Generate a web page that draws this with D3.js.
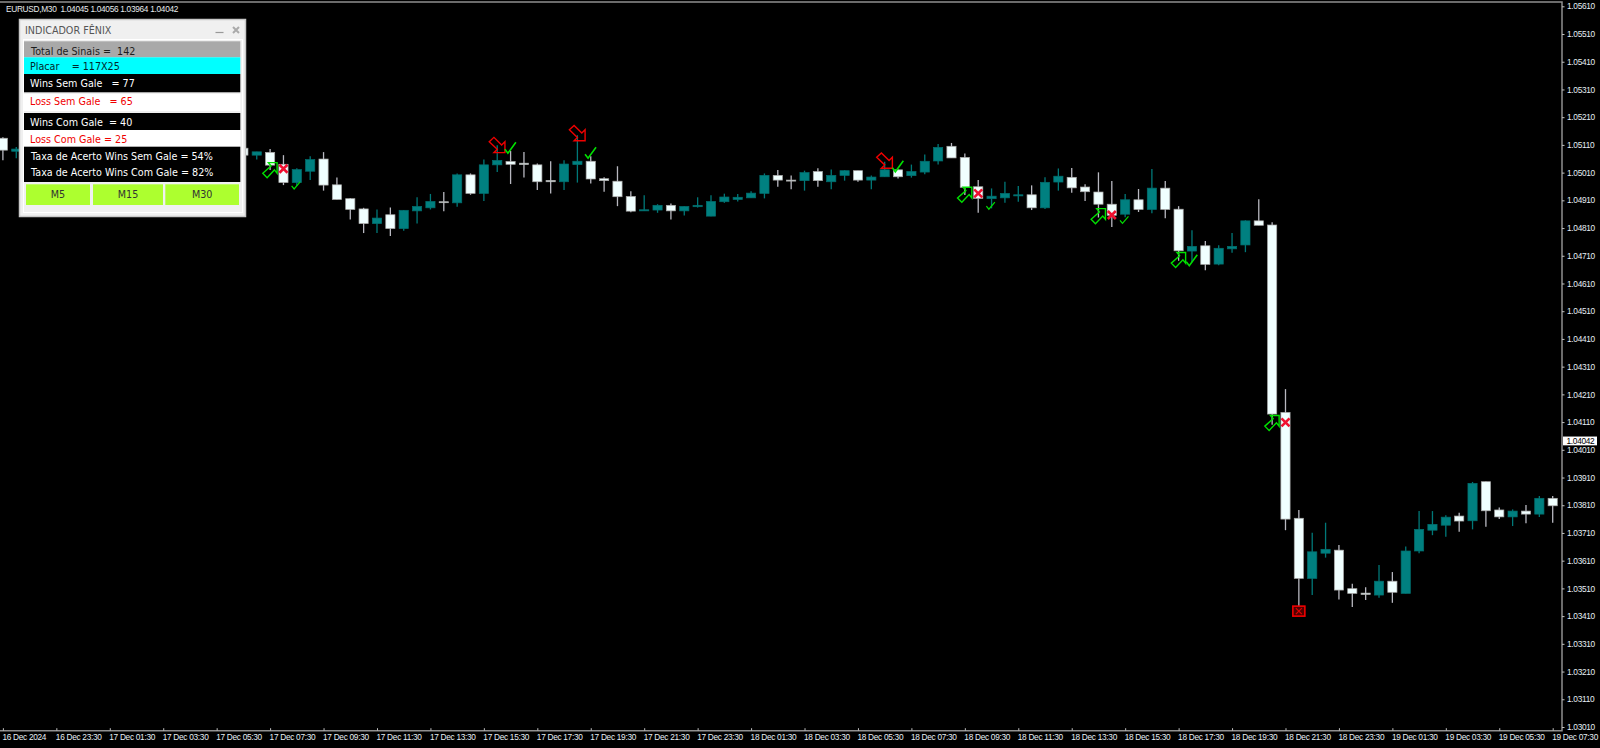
<!DOCTYPE html>
<html><head><meta charset="utf-8">
<script src="https://cdn.jsdelivr.net/npm/d3@7/dist/d3.min.js"></script>
<style>
html,body{margin:0;padding:0;background:#000;overflow:hidden}
svg{display:block}
text{white-space:pre}
</style></head><body>
<svg id="c" width="1600" height="748"></svg>
<script>
// Prices in points (1e-5). Bars counted back from the newest candle.
// Bars 114..99 are hidden behind the indicator panel, so they are not listed.
const barsAgo = [116,115,98,97,96,95,94,93,92,91,90,89,88,87,86,85,84,83,82,81,80,79,78,77,76,75,74,73,72,71,70,69,68,67,66,65,64,63,62,61,60,59,58,57,56,55,54,53,52,51,50,49,48,47,46,45,44,43,42,41,40,39,38,37,36,35,34,33,32,31,30,29,28,27,26,25,24,23,22,21,20,19,18,17,16,15,14,13,12,11,10,9,8,7,6,5,4,3,2,1,0];
const bodyHigh = [105134,105095,105098,105085,105083,105040,105021,105057,105059,104966,104916,104879,104846,104858,104874,104888,104906,104905,105002,105002,105038,105054,105050,105044,105038,104982,105041,105051,105051,104988,104979,104924,104876,104892,104892,104888,104892,104906,104922,104921,104936,105000,105000,104983,105010,105014,105000,105017,105017,104994,105020,105020,105014,105051,105101,105105,105065,104959,104925,104935,104930,104930,104975,104997,104993,104958,104940,104896,104912,104912,104954,104954,104878,104744,104746,104737,104744,104836,104836,104821,104145,103763,103642,103651,103648,103509,103493,103536,103536,103645,103723,103741,103767,103771,103889,103895,103793,103789,103789,103835,103835];
const bodyLow = [105091,105087,105073,105073,105037,104974,104974,105015,104965,104913,104877,104826,104826,104808,104808,104872,104883,104902,104901,104935,104935,105038,105040,105039,104977,104977,104977,105039,104987,104981,104923,104871,104872,104875,104872,104872,104887,104853,104905,104913,104919,104935,104983,104981,104981,104981,104977,105000,104983,104983,104995,104995,104999,105012,105052,105063,104957,104917,104916,104919,104926,104883,104883,104976,104955,104941,104896,104856,104860,104877,104877,104877,104728,104727,104679,104680,104735,104749,104820,104139,103760,103546,103546,103637,103504,103492,103488,103486,103496,103492,103645,103720,103738,103753,103754,103790,103768,103768,103778,103778,103808];
const highs = [105138,105102,105102,105085,105095,105073,105026,105069,105084,104992,104918,104883,104877,104884,104875,104921,104933,104940,105007,105007,105057,105109,105088,105084,105043,105051,105055,105145,105069,104993,105033,104943,104928,104896,104899,104889,104921,104928,104934,104933,104943,105007,105019,105000,105017,105026,105021,105019,105017,105000,105049,105021,105039,105075,105113,105117,105079,104983,104953,104977,104962,104964,104993,105025,105027,104968,105011,104980,104933,104951,105023,104980,104889,104802,104763,104748,104792,104838,104914,104831,104229,103793,103711,103747,103667,103527,103514,103594,103569,103661,103789,103789,103774,103783,103894,103896,103802,103795,103811,103843,103843];
const lows = [105055,105062,105066,105057,105019,104965,104962,104983,104945,104913,104841,104792,104792,104781,104800,104826,104877,104871,104887,104930,104908,105012,104969,104992,104947,104935,104947,104974,104971,104941,104889,104867,104872,104865,104841,104855,104884,104853,104901,104906,104919,104917,104959,104950,104945,104959,104950,104981,104977,104950,104995,104989,104992,105004,105039,105063,104929,104865,104881,104901,104905,104875,104879,104945,104937,104908,104848,104814,104849,104868,104863,104845,104692,104687,104658,104676,104721,104723,104820,104100,103720,103439,103486,103621,103470,103443,103468,103476,103458,103492,103637,103702,103696,103714,103723,103732,103760,103735,103745,103768,103747];
const isUp = [0,1,0,1,0,0,1,1,0,0,0,0,1,0,1,1,1,0,1,0,1,1,0,0,0,0,1,1,0,0,0,0,1,1,0,1,1,1,1,1,1,1,0,0,1,0,1,1,0,1,1,0,1,1,1,0,0,0,1,1,1,0,1,1,0,0,0,0,1,0,1,0,0,1,0,1,1,1,0,0,0,0,1,1,0,0,0,1,0,1,1,1,1,0,1,0,0,1,0,1,0];

const sellBars = [79,73,50], sellPrices = [105082,105125,105026];
const buyBars = [96,44,34,28,21], buyPrices = [105046,104957,104880,104722,104134];
const checkBars = [78,94,72,49,42,32,27], checkPrices = [105080,104951,105062,105013,104878,104827,104674], checkLarge = [1,0,1,1,0,0,1];
const crossBars = [95,43,33,20], crossPrices = [105024,104935,104857,104109];
const boxBars = [19], boxPrices = [103428];

const priceTicks = [103010,103110,103210,103310,103410,103510,103610,103710,103810,103910,104010,104110,104210,104310,104410,104510,104610,104710,104810,104910,105010,105110,105210,105310,105410,105510,105610];
const lastPrice = 104042;
const timeBars = [116,112,108,104,100,96,92,88,84,80,76,72,68,64,60,56,52,48,44,40,36,32,28,24,20,16,12,8,4,0];
const timeLabels = ["16 Dec 2024","16 Dec 23:30","17 Dec 01:30","17 Dec 03:30","17 Dec 05:30","17 Dec 07:30","17 Dec 09:30","17 Dec 11:30","17 Dec 13:30","17 Dec 15:30","17 Dec 17:30","17 Dec 19:30","17 Dec 21:30","17 Dec 23:30","18 Dec 01:30","18 Dec 03:30","18 Dec 05:30","18 Dec 07:30","18 Dec 09:30","18 Dec 11:30","18 Dec 13:30","18 Dec 15:30","18 Dec 17:30","18 Dec 19:30","18 Dec 21:30","18 Dec 23:30","19 Dec 01:30","19 Dec 03:30","19 Dec 05:30","19 Dec 07:30"];
const chartTitle = "EURUSD,M30  1.04045 1.04056 1.03964 1.04042";

const panelTitle = "INDICADOR FÊNIX";
const panelLines = ["Total de Sinais =  142","Placar    = 117X25","Wins Sem Gale   = 77","Loss Sem Gale   = 65","Wins Com Gale  = 40","Loss Com Gale = 25","Taxa de Acerto Wins Sem Gale = 54%","Taxa de Acerto Wins Com Gale = 82%"];
const panelButtons = ["M5","M15","M30"];

const FONT = "'Liberation Sans',sans-serif", PFONT = "'DejaVu Sans',sans-serif";
const svg = d3.select("#c");
const x = d3.scaleLinear().domain([116,0]).range([2.9,1552.7]);
const y = d3.scaleLinear().domain([103010,105610]).range([727,6.3]);
const AX = 1562, AB = 730.7, BW = 9.2;

const candles = barsAgo.map((b,i)=>({b,top:bodyHigh[i],bot:bodyLow[i],h:highs[i],l:lows[i],up:!!isUp[i]}));
const plot = svg.append("g");
plot.selectAll("line.w").data(candles).join("line").attr("class","w")
  .attr("x1",d=>x(d.b)).attr("x2",d=>x(d.b)).attr("y1",d=>y(d.h)).attr("y2",d=>y(d.l))
  .attr("stroke",d=>d.up?"#007878":"#b8b8c0").attr("stroke-width",1.3);
plot.selectAll("rect.b").data(candles).join("rect").attr("class","b")
  .attr("x",d=>x(d.b)-BW/2).attr("width",BW)
  .attr("y",d=>y(d.top)).attr("height",d=>Math.max(1,y(d.bot)-y(d.top)))
  .attr("fill",d=>d.up?"#008080":"#f0ffff")
  .attr("stroke",d=>d.up?"#006e6e":"#a8a8a8").attr("stroke-width",0.7);

// signals
const marks = svg.append("g").attr("fill","none");
const buyShape = "M0,0L-8.7,0L-6,3.3L-14.3,10.7L-10,15L-2.7,7.3L0,10.7Z";
const sellShape = "M0,0L-11,0L-7.7,-3.3L-15.7,-11L-11,-15.3L-3.3,-7.7L0,-11Z";
marks.selectAll("path.buy").data(buyBars).join("path").attr("class","buy")
  .attr("d",buyShape).attr("stroke","#00e000").attr("stroke-width",1.4)
  .attr("transform",(b,i)=>`translate(${x(b)+7},${y(buyPrices[i])})`);
marks.selectAll("path.sell").data(sellBars).join("path").attr("class","sell")
  .attr("d",sellShape).attr("stroke","#f00000").attr("stroke-width",1.4)
  .attr("transform",(b,i)=>`translate(${x(b)+7.7},${y(sellPrices[i])})`);
marks.selectAll("path.chk").data(checkBars).join("path").attr("class","chk")
  .attr("d",(b,i)=>checkLarge[i]?"M-3,-4L0,0L8,-11":"M-2.5,-3L0,0L6,-7")
  .attr("stroke","#00e000").attr("stroke-width",(b,i)=>checkLarge[i]?1.6:1.2)
  .attr("transform",(b,i)=>`translate(${x(b)-2.7},${y(checkPrices[i])})`);
marks.selectAll("path.x").data(crossBars).join("path").attr("class","x")
  .attr("d","M-4,-4L4,4M-4,4L4,-4").attr("stroke","#f01030").attr("stroke-width",2.6)
  .attr("transform",(b,i)=>`translate(${x(b)},${y(crossPrices[i])})`);
const boxes = marks.selectAll("g.box").data(boxBars).join("g").attr("class","box")
  .attr("transform",(b,i)=>`translate(${x(b)},${y(boxPrices[i])})`);
boxes.append("rect").attr("x",-6).attr("y",-5).attr("width",12).attr("height",10).attr("fill","#500000").attr("stroke","#f00000").attr("stroke-width",1.6);
boxes.append("path").attr("d","M-3,-3L3,3M-3,3L3,-3").attr("stroke","#e00000").attr("stroke-width",1.2);

// frame and axes
svg.append("path").attr("d",`M-2,2H${AX}V${AB}H-2`).attr("fill","none").attr("stroke","#8f8f8f").attr("stroke-width",1.5);
const yAxis = svg.append("g").attr("transform",`translate(${AX},0)`)
  .call(d3.axisRight(y).tickValues(priceTicks).tickSize(2.5).tickPadding(2.5).tickFormat(v=>(v/1e5).toFixed(5)));
const xAxis = svg.append("g").attr("transform",`translate(0,${AB})`)
  .call(d3.axisBottom(x).tickValues(timeBars).tickSize(-2.5).tickPadding(5).tickFormat((b,i)=>timeLabels[i]));
[yAxis,xAxis].forEach(a=>{
  a.select(".domain").remove();
  a.selectAll(".tick line").attr("stroke","#c0c0c0").attr("stroke-width",1);
  a.selectAll("text").attr("fill","#e6eef4").attr("font-family",FONT).attr("font-size",8.3).attr("letter-spacing",-0.3);
});
xAxis.selectAll("text").attr("text-anchor","start").attr("dx",-1).attr("dy","0.75em").attr("y",3);

svg.append("rect").attr("x",AX+1).attr("y",y(lastPrice)-4.4).attr("width",34).attr("height",8.8).attr("fill","#fff");
svg.append("text").attr("x",AX+4.5).attr("y",y(lastPrice)+3).attr("fill","#000").attr("font-family",FONT).attr("font-size",8.3).attr("letter-spacing",-0.3).text((lastPrice/1e5).toFixed(5));
svg.append("text").attr("x",6).attr("y",11.5).attr("fill","#e6eaec").attr("font-family",FONT).attr("font-size",8.3).attr("letter-spacing",-0.3).text(chartTitle);

// indicator panel
const p = svg.append("g");
p.append("rect").attr("x",19.5).attr("y",19.5).attr("width",226).attr("height",197).attr("fill","#f0f0f0").attr("stroke","#c8c8c8").attr("stroke-width",1.5);
p.append("rect").attr("x",23.5).attr("y",39.5).attr("width",219).attr("height",173).attr("fill","#f0f0f0").attr("stroke","#fff").attr("stroke-width",1);
p.append("text").attr("x",25).attr("y",34).attr("fill","#555").attr("font-family",PFONT).attr("font-size",9.6).text(panelTitle);
p.append("path").attr("d","M215.5,32.5H223.5").attr("stroke","#999").attr("stroke-width",1.2);
p.append("path").attr("d","M233,27L239,33M233,33L239,27").attr("stroke","#aaa").attr("stroke-width",2);
const rowFill = ["#a9a9a9","#00ffff","#000","#fff","#000","#fff","#000","#000"];
const rowTop = [41.3,57.3,74,94,113,130,146.7,164];
const rowBot = [57.3,74,92.3,111,130,146.7,164,182];
const rowTextY = [54.5,69.5,86.5,104.5,125.5,142.5,159.5,175.5];
const rowTextX = [31,30,30,30,30,30,31,31];
const rowColor = ["#1c1c1c","#00282c","#fff","#f00000","#fff","#f00000","#fff","#fff"];
panelLines.forEach((t,i)=>{
  p.append("rect").attr("x",24).attr("y",rowTop[i]).attr("width",216.3).attr("height",rowBot[i]-rowTop[i]).attr("fill",rowFill[i]);
  p.append("text").attr("x",rowTextX[i]).attr("y",rowTextY[i]).attr("fill",rowColor[i]).attr("font-family",PFONT).attr("font-size",9.6).text(t);
});
const btnX = [26,93,165.3], btnW = [64,70,73.7];
panelButtons.forEach((t,i)=>{
  p.append("rect").attr("x",btnX[i]).attr("y",184.3).attr("width",btnW[i]).attr("height",20.7).attr("fill","#adff2f");
  p.append("text").attr("x",btnX[i]+btnW[i]/2).attr("y",197.5).attr("text-anchor","middle").attr("fill","#333").attr("font-family",PFONT).attr("font-size",9.6).text(t);
});
</script></body></html>
